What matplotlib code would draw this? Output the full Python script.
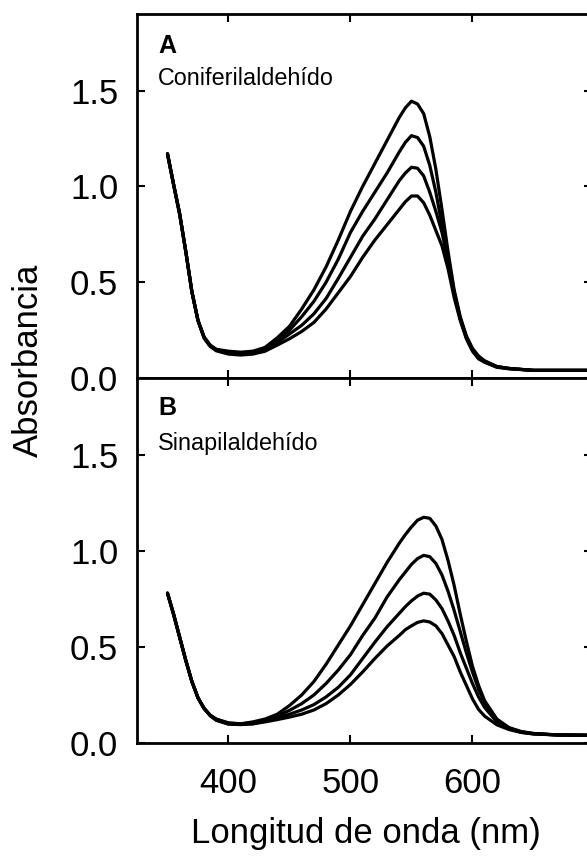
import matplotlib.pyplot as plt

plt.rcParams['font.family'] = ['Liberation Sans', 'DejaVu Sans']

# Wavelength grid (nm)
wl = [350, 355, 360, 365, 370, 375, 380, 385, 390, 400, 410, 420,
      430, 440, 450, 460, 470, 480, 490, 500, 510, 520, 530, 540,
      545, 550, 555, 560, 565, 570, 575, 580, 585, 590, 595, 600,
      605, 610, 620, 630, 640, 650, 670, 700]

# Panel A - Coniferilaldehido (4 spectra)
conif_1 = [1.17, 1.01, 0.855, 0.66, 0.45, 0.30, 0.215, 0.172, 0.15, 0.14, 0.135, 0.14,
           0.16, 0.21, 0.27, 0.36, 0.46, 0.58, 0.72, 0.87, 1.00, 1.12, 1.24, 1.36,
           1.41, 1.445, 1.43, 1.38, 1.26, 1.09, 0.88, 0.66, 0.46, 0.32, 0.22, 0.155,
           0.115, 0.09, 0.06, 0.05, 0.045, 0.04, 0.04, 0.04]
conif_2 = [1.17, 1.01, 0.855, 0.66, 0.45, 0.30, 0.213, 0.17, 0.148, 0.135, 0.13, 0.135,
           0.15, 0.195, 0.25, 0.32, 0.40, 0.50, 0.62, 0.76, 0.87, 0.97, 1.07, 1.18,
           1.23, 1.265, 1.255, 1.21, 1.11, 0.97, 0.80, 0.63, 0.45, 0.31, 0.215, 0.15,
           0.11, 0.088, 0.06, 0.05, 0.045, 0.04, 0.04, 0.04]
conif_3 = [1.17, 1.01, 0.855, 0.66, 0.45, 0.30, 0.21, 0.167, 0.145, 0.13, 0.125, 0.13,
           0.145, 0.185, 0.23, 0.275, 0.335, 0.415, 0.52, 0.63, 0.74, 0.83, 0.93, 1.03,
           1.07, 1.10, 1.095, 1.055, 0.97, 0.87, 0.76, 0.61, 0.44, 0.31, 0.21, 0.145,
           0.105, 0.085, 0.058, 0.05, 0.045, 0.04, 0.04, 0.04]
conif_4 = [1.17, 1.01, 0.855, 0.66, 0.45, 0.30, 0.208, 0.165, 0.142, 0.125, 0.12, 0.125,
           0.14, 0.172, 0.205, 0.243, 0.29, 0.36, 0.445, 0.53, 0.63, 0.72, 0.80, 0.88,
           0.92, 0.95, 0.95, 0.915, 0.85, 0.77, 0.69, 0.57, 0.42, 0.30, 0.205, 0.14,
           0.10, 0.082, 0.056, 0.048, 0.044, 0.04, 0.04, 0.04]

# Panel B - Sinapilaldehido (4 spectra)
sinap_1 = [0.78, 0.67, 0.55, 0.43, 0.32, 0.235, 0.18, 0.145, 0.125, 0.105, 0.10, 0.11,
           0.125, 0.15, 0.195, 0.25, 0.32, 0.41, 0.51, 0.61, 0.72, 0.83, 0.94, 1.04,
           1.085, 1.125, 1.16, 1.175, 1.17, 1.13, 1.06, 0.95, 0.82, 0.67, 0.53, 0.40,
           0.30, 0.22, 0.125, 0.08, 0.06, 0.05, 0.042, 0.04]
sinap_2 = [0.78, 0.67, 0.55, 0.43, 0.32, 0.235, 0.18, 0.145, 0.123, 0.103, 0.10, 0.105,
           0.12, 0.14, 0.17, 0.205, 0.25, 0.31, 0.38, 0.46, 0.56, 0.65, 0.76, 0.85,
           0.89, 0.93, 0.96, 0.977, 0.97, 0.935, 0.875, 0.79, 0.69, 0.58, 0.47, 0.37,
           0.28, 0.21, 0.12, 0.078, 0.058, 0.049, 0.042, 0.04]
sinap_3 = [0.78, 0.67, 0.55, 0.43, 0.32, 0.235, 0.18, 0.143, 0.12, 0.10, 0.098, 0.10,
           0.115, 0.13, 0.15, 0.172, 0.20, 0.24, 0.29, 0.355, 0.44, 0.525, 0.605, 0.675,
           0.71, 0.74, 0.765, 0.78, 0.775, 0.745, 0.70, 0.635, 0.56, 0.47, 0.39, 0.31,
           0.24, 0.185, 0.11, 0.075, 0.056, 0.048, 0.042, 0.04]
sinap_4 = [0.78, 0.67, 0.55, 0.43, 0.32, 0.235, 0.18, 0.142, 0.118, 0.098, 0.096, 0.10,
           0.11, 0.122, 0.135, 0.15, 0.172, 0.205, 0.25, 0.305, 0.37, 0.44, 0.505, 0.56,
           0.59, 0.61, 0.628, 0.636, 0.63, 0.61, 0.57, 0.51, 0.45, 0.37, 0.30, 0.23,
           0.175, 0.14, 0.095, 0.07, 0.055, 0.047, 0.042, 0.04]

y_ticks = [0.0, 0.5, 1.0, 1.5]
x_ticks = [400, 500, 600]

fig = plt.figure(figsize=(5.87, 8.58), dpi=100)
ax_a = fig.add_axes([0.2334, 0.5594, 0.7751, 0.4243])
ax_b = fig.add_axes([0.2334, 0.1340, 0.7751, 0.4254])

panels = [
    (ax_a, [conif_1, conif_2, conif_3, conif_4], "A", "Coniferilaldehído"),
    (ax_b, [sinap_1, sinap_2, sinap_3, sinap_4], "B", "Sinapilaldehído"),
]

for ax, curves, letter, name in panels:
    for c in curves:
        ax.plot(wl, c, color="black", lw=2.3, solid_joinstyle="round",
                solid_capstyle="round")
    ax.set_xlim(325, 698)
    ax.set_ylim(0, 1.9)
    ax.set_xticks(x_ticks)
    ax.set_yticks(y_ticks)
    ax.set_yticklabels([f"{v:.1f}" for v in y_ticks])
    ax.tick_params(direction="in", length=5.8, width=1.5, top=True, right=True,
                   labelsize=25)
    ax.tick_params(axis="y", pad=13.5)
    ax.tick_params(axis="x", pad=17)
    for s in ax.spines.values():
        s.set_linewidth(2)

ax_a.tick_params(labelbottom=False)

# panel letters and compound names
fig.text(158 / 587, 1 - 53 / 858, "A", fontsize=18, fontweight="bold",
         va="baseline", ha="left")
fig.text(158 / 587, 1 - 85 / 858, "Coniferilaldehído", fontsize=16.8,
         va="baseline", ha="left")
fig.text(158 / 587, 1 - 415 / 858, "B", fontsize=18, fontweight="bold",
         va="baseline", ha="left")
fig.text(158 / 587, 1 - 450 / 858, "Sinapilaldehído", fontsize=16.8,
         va="baseline", ha="left")

fig.text(366 / 587, 1 - 843 / 858, "Longitud de onda (nm)", fontsize=25,
         ha="center", va="baseline")
fig.text(28 / 587, 1 - 360 / 858, "Absorbancia", fontsize=25, rotation=90,
         ha="center", va="center")

fig.savefig("out.png", dpi=100)
